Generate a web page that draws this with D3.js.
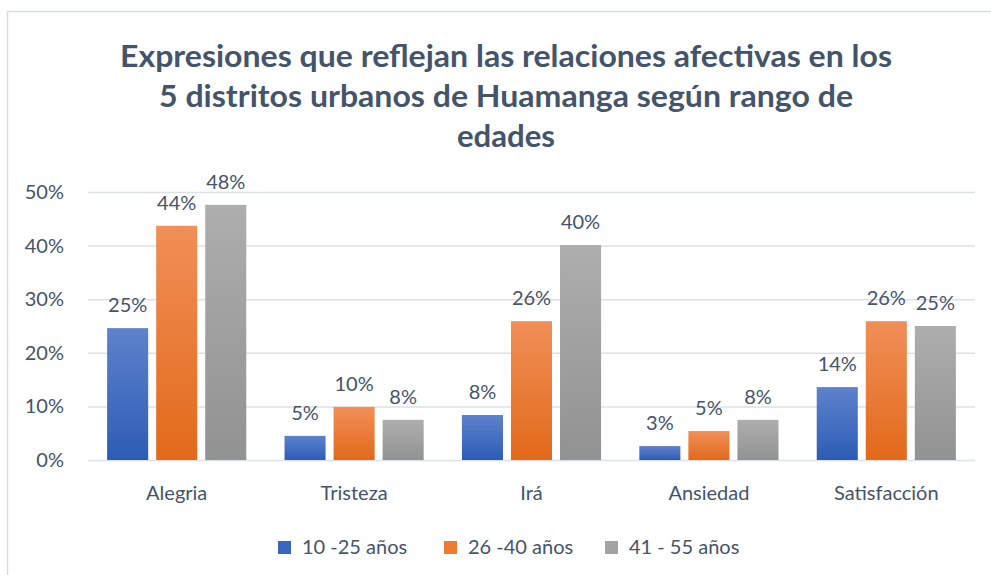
<!DOCTYPE html>
<html>
<head>
<meta charset="utf-8">
<script src="https://cdn.jsdelivr.net/npm/d3@7"></script>
<style>
  body { margin: 0; background: #fff; }
  text { font-family: Lato, "Open Sans", sans-serif; }
</style>
</head>
<body>
<div id="chart"></div>
<script>
// ----- data
var categories = ["Alegria", "Tristeza", "Irá", "Ansiedad", "Satisfacción"];
var seriesNames = ["10 -25 años", "26 -40 años", "41 - 55 años"];
var s1 = [0.246, 0.045, 0.084, 0.026, 0.136];
var s2 = [0.437, 0.099, 0.259, 0.054, 0.259];
var s3 = [0.476, 0.075, 0.401, 0.075, 0.250];
var yTicks = [0, 0.1, 0.2, 0.3, 0.4, 0.5];
var titleLines = [
  "Expresiones que reflejan las relaciones afectivas en los",
  "5 distritos urbanos de Huamanga según rango de",
  "edades"
];

var seriesValues = [s1, s2, s3];

// ----- figure
const W = 991, H = 575;
const plot = { left: 88, right: 975, top: 192, bottom: 460 };
const textColor = "#44546A";
const fontSize = 20;
const gradients = [
  { id: "gBlue", top: "#5E82CC", bottom: "#2D5CB5", legend: "#3A66BF" },
  { id: "gOrange", top: "#F18F58", bottom: "#E2691A", legend: "#EE7A30" },
  { id: "gGray", top: "#AEAEAE", bottom: "#929292", legend: "#A3A3A3" }
];

var svg = d3.select("#chart").append("svg")
    .attr("width", W)
    .attr("height", H);

var defs = svg.append("defs");
gradients.forEach(function (g) {
    var lg = defs.append("linearGradient")
        .attr("id", g.id)
        .attr("x1", 0).attr("y1", 0).attr("x2", 0).attr("y2", 1);
    lg.append("stop").attr("offset", "0%").attr("stop-color", g.top);
    lg.append("stop").attr("offset", "45%").attr("stop-color", d3.interpolateRgb(g.top, g.bottom)(0.45));
    lg.append("stop").attr("offset", "100%").attr("stop-color", g.bottom);
});

// chart border
svg.append("rect")
    .attr("x", 7.5).attr("y", 11.5)
    .attr("width", 1000).attr("height", 600)
    .attr("fill", "none")
    .attr("stroke", "#D9DDE2")
    .attr("stroke-width", 1.5);

// title
var titleWidths = [772, 694, 98];
svg.append("g").selectAll("text")
    .data(titleLines)
    .join("text")
    .attr("x", 506)
    .attr("y", function (d, i) { return 67 + i * 40; })
    .attr("text-anchor", "middle")
    .attr("fill", textColor)
    .attr("font-size", 31)
    .attr("font-weight", "bold")
    .attr("textLength", function (d, i) { return titleWidths[i]; })
    .attr("lengthAdjust", "spacingAndGlyphs")
    .text(function (d) { return d; });

// scales
var x = d3.scaleBand()
    .domain(categories)
    .range([plot.left, plot.right]);

var xs = d3.scaleBand()
    .domain(seriesNames)
    .range([0, x.bandwidth()])
    .paddingInner(0.163)
    .paddingOuter(0.39);

var y = d3.scaleLinear()
    .domain([0, 0.5])
    .range([plot.bottom, plot.top]);

// gridlines
svg.append("g").selectAll("line")
    .data(yTicks)
    .join("line")
    .attr("x1", plot.left).attr("x2", plot.right)
    .attr("y1", function (d) { return y(d) + 0.5; })
    .attr("y2", function (d) { return y(d) + 0.5; })
    .attr("stroke", "#DDE1E7")
    .attr("stroke-width", 1.5);

// y axis
var yAxis = d3.axisLeft(y)
    .tickValues(yTicks)
    .tickFormat(d3.format(".0%"))
    .tickSize(0)
    .tickPadding(0);

var yg = svg.append("g")
    .attr("transform", "translate(64,0)")
    .call(yAxis);
yg.select(".domain").remove();
yg.selectAll("text")
    .attr("fill", textColor)
    .attr("font-size", fontSize)
    .attr("font-family", "Lato, sans-serif");

// x axis
var xAxis = d3.axisBottom(x).tickSize(0).tickPadding(0);
var xg = svg.append("g")
    .attr("transform", "translate(0," + (plot.bottom + 26) + ")")
    .call(xAxis);
xg.select(".domain").remove();
xg.selectAll("text")
    .attr("fill", textColor)
    .attr("font-size", fontSize)
    .attr("font-family", "Lato, sans-serif");

// bars
seriesNames.forEach(function (s, si) {
    var g = svg.append("g");
    g.selectAll("rect")
        .data(seriesValues[si])
        .join("rect")
        .attr("x", function (d, i) { return x(categories[i]) + xs(s); })
        .attr("y", function (d) { return y(d); })
        .attr("width", xs.bandwidth())
        .attr("height", function (d) { return y(0) - y(d); })
        .attr("fill", "url(#" + gradients[si].id + ")");

    g.selectAll("text")
        .data(seriesValues[si])
        .join("text")
        .attr("x", function (d, i) { return x(categories[i]) + xs(s) + xs.bandwidth() / 2; })
        .attr("y", function (d) { return y(d) - 16; })
        .attr("text-anchor", "middle")
        .attr("fill", textColor)
        .attr("font-size", fontSize)
        .text(function (d) { return d3.format(".0%")(d); });
});

// legend
var legendX = [278, 444, 605];
var legend = svg.append("g").selectAll("g")
    .data(seriesNames)
    .join("g")
    .attr("transform", function (d, i) { return "translate(" + legendX[i] + ",541)"; });
legend.append("rect")
    .attr("width", 13).attr("height", 13)
    .attr("fill", function (d, i) { return gradients[i].legend; });
legend.append("text")
    .attr("x", 24)
    .attr("y", 13)
    .attr("fill", textColor)
    .attr("font-size", fontSize)
    .text(function (d) { return d; });
</script>
</body>
</html>
